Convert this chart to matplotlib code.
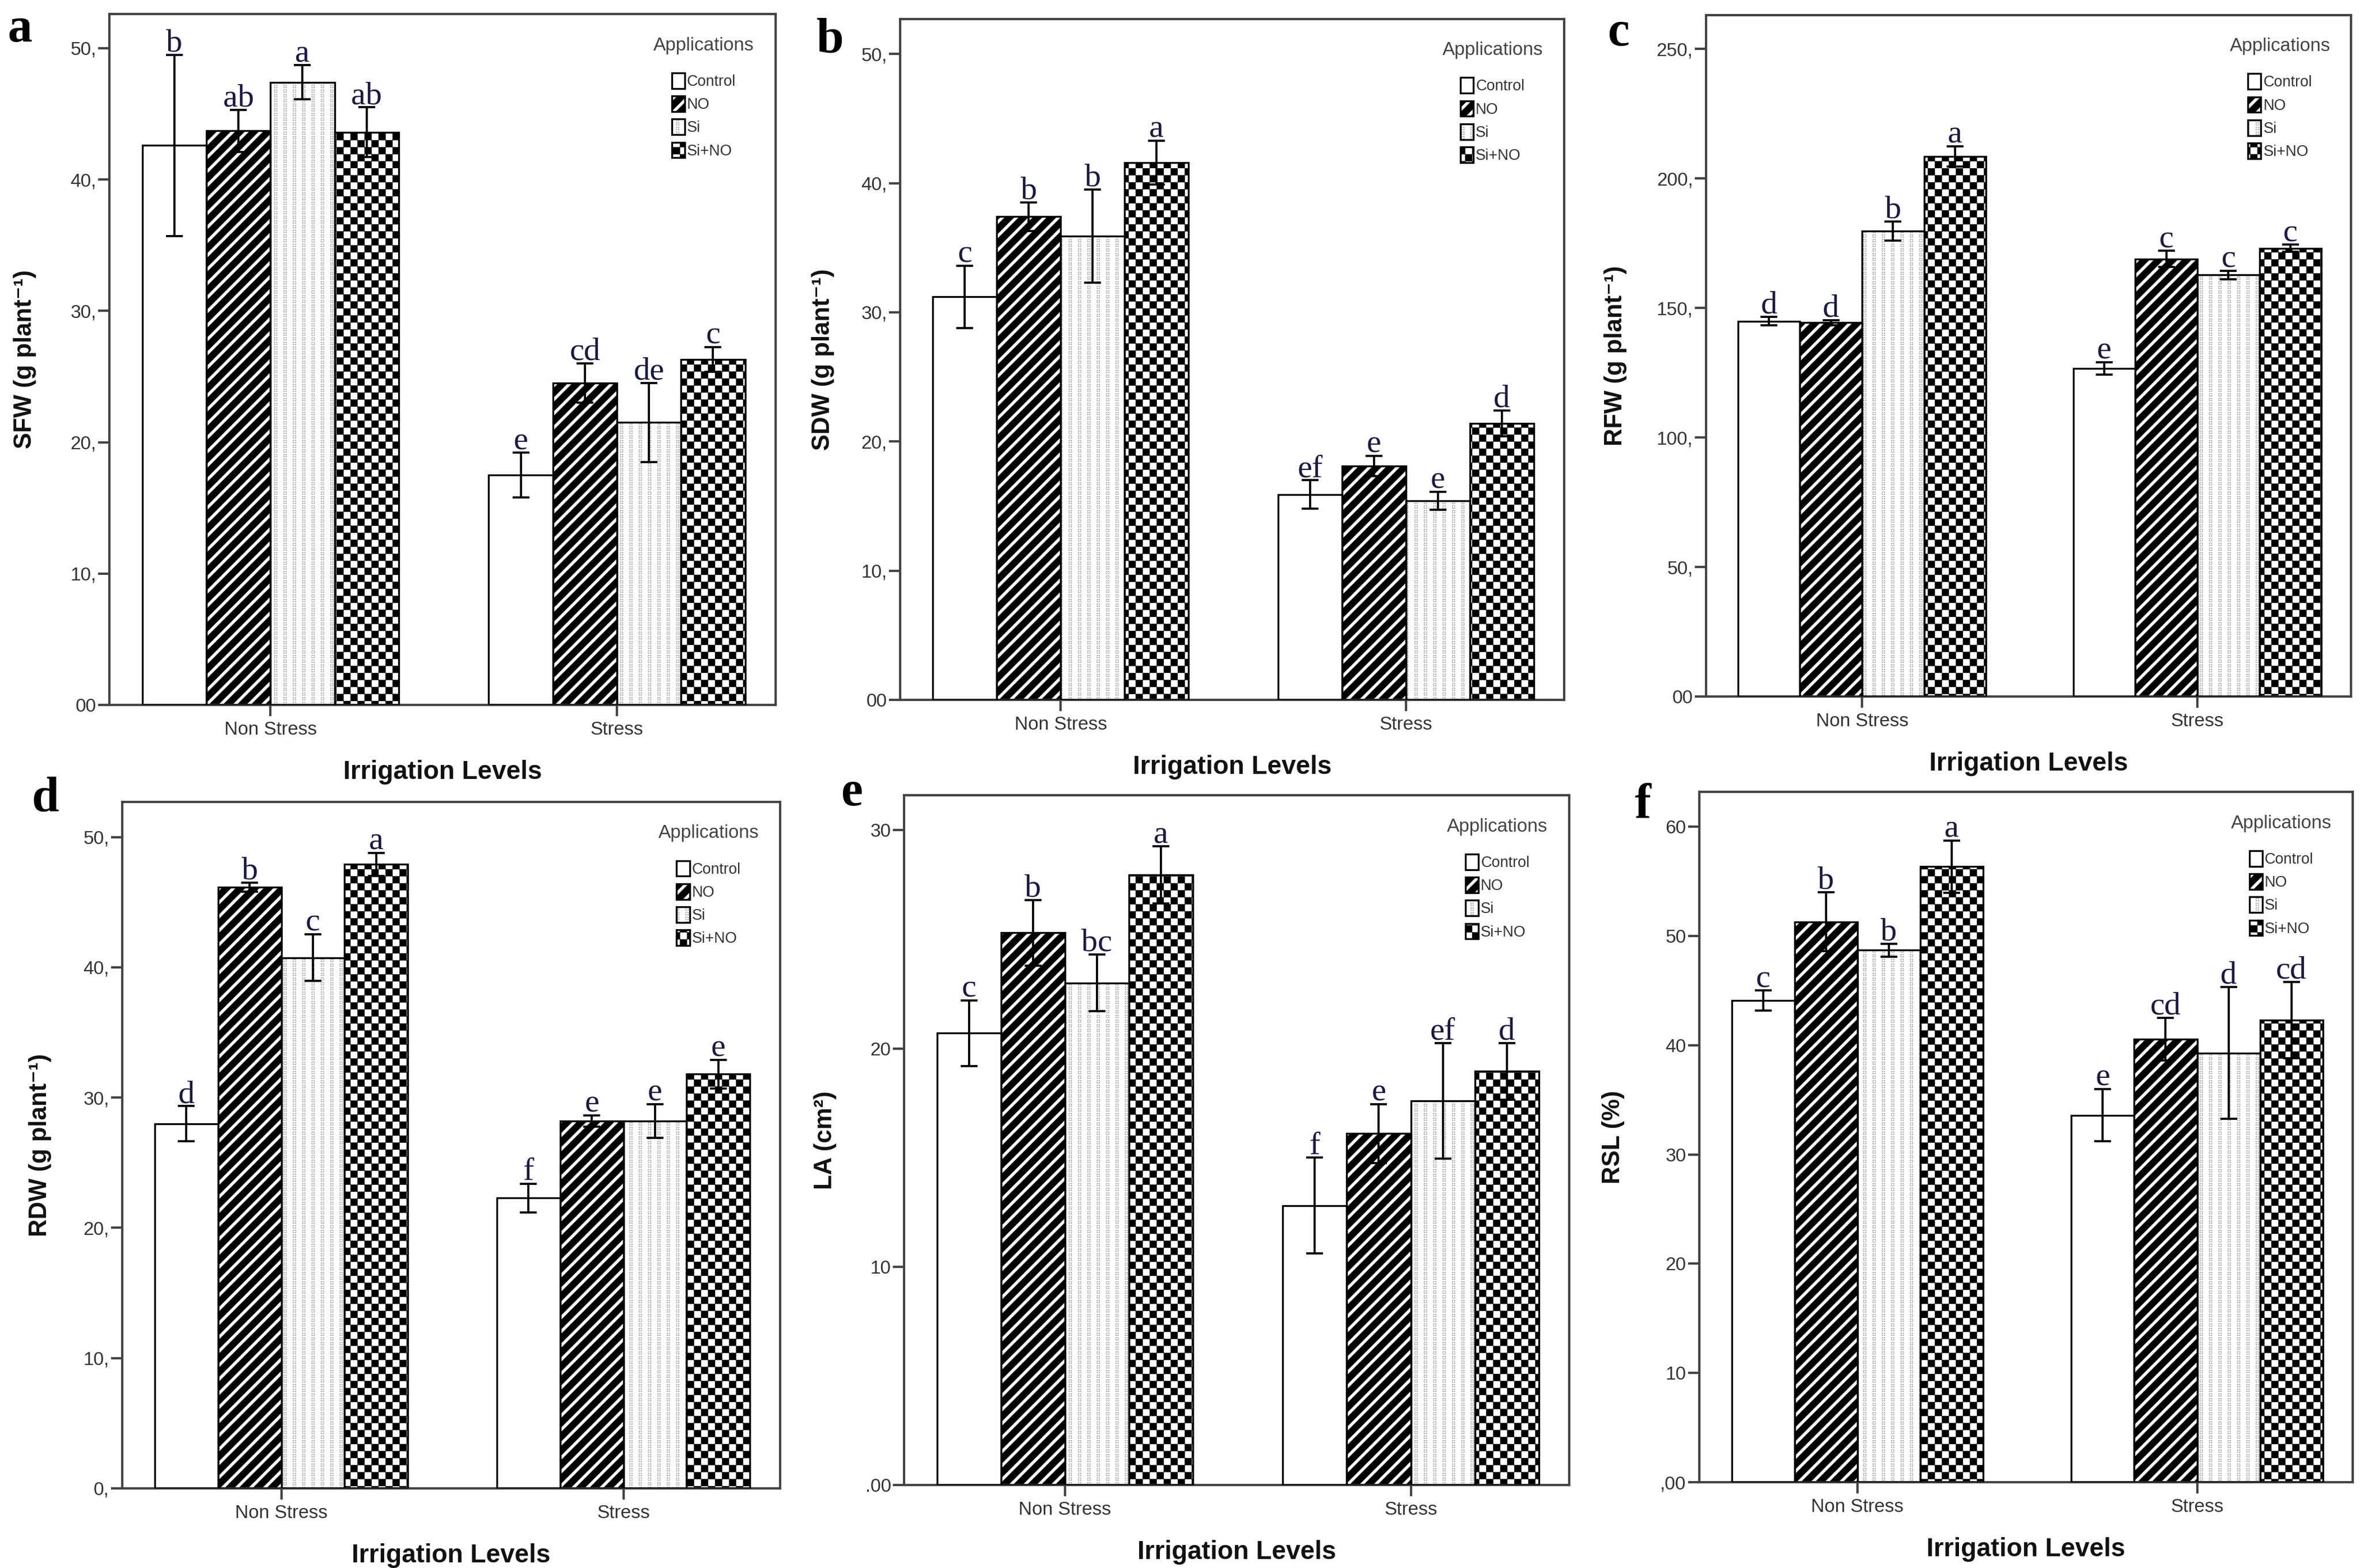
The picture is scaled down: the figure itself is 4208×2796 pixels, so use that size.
import numpy as np
import matplotlib
matplotlib.use('Agg')
import matplotlib.pyplot as plt
import matplotlib.hatch as mhatch
from matplotlib.path import Path

# ---- data ----
groups = ['Non Stress', 'Stress']
treatments = ['Control', 'NO', 'Si', 'Si+NO']

sfw_mean = [[42.6, 43.7, 47.4, 43.6], [17.5, 24.5, 21.5, 26.3]]
sfw_err = [[6.9, 1.6, 1.3, 1.9], [1.7, 1.5, 3.0, 0.95]]
sfw_sig = [['b', 'ab', 'a', 'ab'], ['e', 'cd', 'de', 'c']]

sdw_mean = [[31.2, 37.4, 35.9, 41.6], [15.9, 18.1, 15.4, 21.4]]
sdw_err = [[2.4, 1.1, 3.6, 1.7], [1.1, 0.8, 0.7, 1.0]]
sdw_sig = [['c', 'b', 'b', 'a'], ['ef', 'e', 'e', 'd']]

rfw_mean = [[144.9, 144.3, 179.6, 208.5], [126.6, 168.9, 162.7, 173.0]]
rfw_err = [[1.7, 1.0, 3.7, 3.9], [2.4, 3.1, 1.6, 1.4]]
rfw_sig = [['d', 'd', 'b', 'a'], ['e', 'c', 'c', 'c']]

rdw_mean = [[28.0, 46.15, 40.75, 47.9], [22.3, 28.2, 28.2, 31.8]]
rdw_err = [[1.35, 0.35, 1.8, 0.9], [1.1, 0.45, 1.3, 1.1]]
rdw_sig = [['d', 'b', 'c', 'a'], ['f', 'e', 'e', 'e']]

la_mean = [[20.7, 25.3, 23.0, 27.95], [12.8, 16.1, 17.6, 18.95]]
la_err = [[1.5, 1.5, 1.3, 1.3], [2.2, 1.35, 2.65, 1.3]]
la_sig = [['c', 'b', 'bc', 'a'], ['f', 'e', 'ef', 'd']]

rsl_mean = [[44.1, 51.3, 48.7, 56.35], [33.6, 40.55, 39.3, 42.3]]
rsl_err = [[0.9, 2.7, 0.6, 2.4], [2.4, 1.95, 6.05, 3.5]]
rsl_sig = [['c', 'b', 'b', 'a'], ['e', 'cd', 'd', 'cd']]

ticks_50 = [0, 10, 20, 30, 40, 50]
labels_a = ['00', '10,', '20,', '30,', '40,', '50,']
labels_b = ['00', '10,', '20,', '30,', '40,', '50,']
ticks_c = [0, 50, 100, 150, 200, 250]
labels_c = ['00', '50,', '100,', '150,', '200,', '250,']
labels_d = ['0,', '10,', '20,', '30,', '40,', '50,']
ticks_e = [0, 10, 20, 30]
labels_e = ['.00', '10', '20', '30']
ticks_f = [0, 10, 20, 30, 40, 50, 60]
labels_f = [',00', '10', '20', '30', '40', '50', '60']


# ---- custom hatches: checkerboard on 'O', dot grid on '*' ----
class CheckerHatch(mhatch.HatchPatternBase):
    def __init__(self, hatch, density):
        n = int(hatch.count('O') * density)
        self.n = n - n % 2
        self.cells = [(i, j) for i in range(self.n) for j in range(self.n)
                      if (i + j) % 2 == 0]
        self.num_vertices = 5 * len(self.cells)

    def set_vertices_and_codes(self, vertices, codes):
        step = 1.0 / self.n
        sq = np.array([[-1, -1], [1, -1], [1, 1], [-1, 1], [-1, -1]]) * step * 0.3
        cc = [Path.MOVETO, Path.LINETO, Path.LINETO, Path.LINETO, Path.CLOSEPOLY]
        for k, (i, j) in enumerate(self.cells):
            vertices[5 * k:5 * k + 5] = sq + [(i + 0.5) * step, (j + 0.5) * step]
            codes[5 * k:5 * k + 5] = cc


class DotHatch(mhatch.HatchPatternBase):
    def __init__(self, hatch, density):
        self.ncol = int(hatch.count('*') * density)
        self.nrow = 2 * self.ncol
        self.num_vertices = 5 * self.ncol * self.nrow

    def set_vertices_and_codes(self, vertices, codes):
        if self.ncol == 0:
            return
        sq = np.array([[-1, -1], [1, -1], [1, 1], [-1, 1], [-1, -1]]) * 1e-4
        cc = [Path.MOVETO, Path.LINETO, Path.LINETO, Path.LINETO, Path.CLOSEPOLY]
        k = 0
        for i in range(self.ncol):
            for j in range(self.nrow):
                vertices[5 * k:5 * k + 5] = sq + [(i + 0.5) / self.ncol, (j + 0.5) / self.nrow]
                codes[5 * k:5 * k + 5] = cc
                k += 1


mhatch._hatch_types = [t for t in mhatch._hatch_types
                       if t not in (mhatch.LargeCircles, mhatch.Stars)] + [CheckerHatch, DotHatch]

plt.rcParams['font.family'] = ['Liberation Sans', 'DejaVu Sans']
plt.rcParams['hatch.linewidth'] = 1.3

W, H, DPI = 4208, 2796, 300
fig = plt.figure(figsize=(W / DPI, H / DPI), dpi=DPI)

# face, hatch, hatch colour
styles = [('white', None, 'white'),
          ('black', '////', 'white'),
          ('white', '***', '#9a9a9a'),
          ('white', 'OOOO', 'black')]

# (panel letter, letter px, axes px box L,T,R,B, ylabel offset px, ylabel, data...)
panels = [
    ('a', (13, 74), (195, 25, 1383, 1257), 155, 'SFW (g plant⁻¹)',
     sfw_mean, sfw_err, sfw_sig, ticks_50, labels_a, 52.6),
    ('b', (1456, 94), (1605, 34, 2789, 1248), 142, 'SDW (g plant⁻¹)',
     sdw_mean, sdw_err, sdw_sig, ticks_50, labels_b, 52.7),
    ('c', (2867, 81), (3042, 27, 4192, 1242), 166, 'RFW (g plant⁻¹)',
     rfw_mean, rfw_err, rfw_sig, ticks_c, labels_c, 263),
    ('d', (57, 1447), (218, 1430, 1391, 2654), 151, 'RDW (g plant⁻¹)',
     rdw_mean, rdw_err, rdw_sig, ticks_50, labels_d, 52.7),
    ('e', (1500, 1436), (1612, 1418, 2798, 2648), 145, 'LA (cm²)',
     la_mean, la_err, la_sig, ticks_e, labels_e, 31.6),
    ('f', (2914, 1458), (3030, 1412, 4195, 2643), 158, 'RSL (%)',
     rsl_mean, rsl_err, rsl_sig, ticks_f, labels_f, 63.2),
]

gx = np.arange(len(groups))
bw = 0.185
frame = '#444444'

for (let, lpos, box, yoff, ylab, means, errs, sigs, yt, ytl, ymax) in panels:
    L, T, R, B = box
    ax = fig.add_axes([L / W, 1 - B / H, (R - L) / W, (B - T) / H])
    handles = []
    for i, (face, hatch, hc) in enumerate(styles):
        x = gx + (i - 1.5) * bw
        h = [means[g][i] for g in range(len(groups))]
        e = [errs[g][i] for g in range(len(groups))]
        fill = ax.bar(x, h, bw, color=face, edgecolor=hc, hatch=hatch,
                      linewidth=0, zorder=2)
        outline = ax.bar(x, h, bw, fill=False, edgecolor='black',
                         linewidth=0.8, zorder=3)
        ax.errorbar(x, h, yerr=e, fmt='none', ecolor='black', elinewidth=0.9,
                    capsize=3.6, capthick=0.9, zorder=4)
        for xi, hi, ei, s in zip(x, h, e, [sigs[g][i] for g in range(len(groups))]):
            ax.annotate(s, (xi, hi + ei), xytext=(0, 1.5), textcoords='offset points',
                        ha='center', va='baseline', fontsize=14,
                        family='Liberation Serif', color='#1a1a40', zorder=5)
        handles.append((fill[0], outline[0]))

    ax.set_xlim(-0.465, 1.458)
    ax.set_ylim(0, ymax)
    ax.set_xticks(gx, groups)
    ax.set_yticks(yt, ytl)
    ax.tick_params(axis='both', direction='out', length=4.8, width=1.0,
                   color=frame, labelsize=8, labelcolor='#333333')
    ax.tick_params(axis='x', pad=2.2)
    ax.tick_params(axis='y', pad=0.8)
    for sp in ax.spines.values():
        sp.set_color(frame)
        sp.set_linewidth(1.0)

    ax.set_ylabel(ylab, fontsize=10.5, fontweight='bold', color='#111111')
    ax.yaxis.set_label_coords(-(yoff - 25) / (R - L), 0.5)
    ax.set_xlabel('Irrigation Levels', fontsize=11, fontweight='bold', color='#111111')
    ax.xaxis.set_label_coords(0.5, -98 / (B - T))

    leg = ax.legend(handles, treatments, title='Applications', loc='upper right',
                    bbox_to_anchor=(0.968, 0.967), frameon=False, fontsize=6.5,
                    title_fontsize=8, handlelength=0.85, handleheight=1.2,
                    handletextpad=0.15, labelspacing=0.45, borderpad=0,
                    borderaxespad=0)
    leg._legend_box.sep = 8
    leg.get_title().set_color('#444444')
    for t in leg.get_texts():
        t.set_color('#333333')

    fig.text(lpos[0] / W, 1 - lpos[1] / H, let, fontsize=21, fontweight='bold',
             family='Liberation Serif', ha='left', va='baseline')

fig.savefig('out.png', dpi=DPI)
